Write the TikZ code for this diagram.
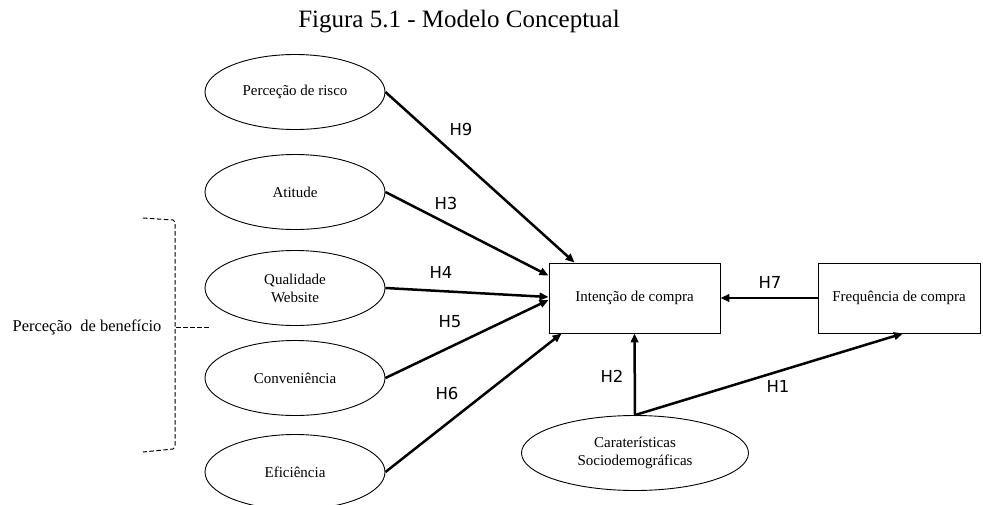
\documentclass[tikz,border=0pt]{standalone}
\usepackage{fontspec}
\setmainfont{Liberation Serif}
\newfontfamily\labfont{DejaVu Sans}
\usetikzlibrary{shapes.geometric,arrows.meta,calc}
\tikzset{
  constr/.style={draw, ellipse, line width=0.9pt, minimum width=180pt, minimum height=75pt, inner sep=0pt, align=center, font=\fontsize{15}{18}\selectfont},
  sdbox/.style={draw, rectangle, line width=0.9pt, minimum height=70pt, inner sep=0pt, font=\fontsize{15}{18}\selectfont},
  hyp/.style={line width=2.5pt, -{Triangle[length=9pt,width=7.5pt]}},
  hlab/.style={font=\labfont\fontsize{16.5}{18}\selectfont},
  brk/.style={line width=1pt, dash pattern=on 4.5pt off 2.5pt}
}
\begin{document}
\begin{tikzpicture}[x=1pt,y=-1pt]
\useasboundingbox (0,0) rectangle (983,504);
\node (title) at (459,22) {\fontsize{25}{28}\selectfont Figura 5.1 - Modelo Conceptual};

\node[constr] (pr) at (295,92) {Perceção de risco};
\node[constr] (at) at (295,192) {Atitude};
\node[constr] (qw) at (295,288) {Qualidade\\Website};
\node[constr] (cv) at (295,378) {Conveniência};
\node[constr] (ef) at (295,472) {Eficiência};
\node[constr, minimum width=227pt] (soc) at (635,453) {Caraterísticas\\Sociodemográficas};

\node[sdbox, minimum width=171pt] (ic) at (634.5,298) {Intenção de compra};
\node[sdbox, minimum width=162pt] (fc) at (899,298) {Frequência de compra};

\coordinate (e9) at ($(ic.north west)+(26,0)$);
\coordinate (e3) at ($(ic.north west)+(0,13)$);
\coordinate (e4) at ($(ic.west)+(0,-1)$);
\coordinate (e5) at ($(ic.west)+(0,2)$);
\coordinate (e6) at ($(ic.south west)+(13,0)$);
\coordinate (e1) at ($(fc.south)+(4,0)$);

\draw[hyp] (pr.east) -- (e9);
\draw[hyp] (at.east) -- (e3);
\draw[hyp] (qw.east) -- (e4);
\draw[hyp] (cv.east) -- (e5);
\draw[hyp] (ef.east) -- (e6);
\draw[hyp] (soc.north) -- (ic.south);
\draw[hyp] (soc.north) -- (e1);
\draw[hyp] (fc.west) -- (ic.east);

\node[hlab] (l9) at (461,129) {H9};
\node[hlab] (l3) at (446,203) {H3};
\node[hlab] (l4) at (441,272) {H4};
\node[hlab] (l5) at (450,322) {H5};
\node[hlab] (l6) at (447,393) {H6};
\node[hlab] (l7) at (770,282) {H7};
\node[hlab] (l2) at (612,376) {H2};
\node[hlab] (l1) at (778,386) {H1};

% bracket
\coordinate (bt1) at (143,218);
\coordinate (bt2) at (173,220);
\coordinate (bb1) at (143,452);
\coordinate (bb2) at (173,449);
\coordinate (bm) at (176,327);
\coordinate (bmr) at (210,327);
\draw[brk] (bt1) -- (bt2) -- (175,222) -- (175,447) -- (bb2) -- (bb1);
\draw[brk] (bm) -- (bmr);
\node[font=\fontsize{16.5}{18}\selectfont, anchor=east] (pb) at (165,327) {Perceção\ \ de benefício};
\end{tikzpicture}
\end{document}
